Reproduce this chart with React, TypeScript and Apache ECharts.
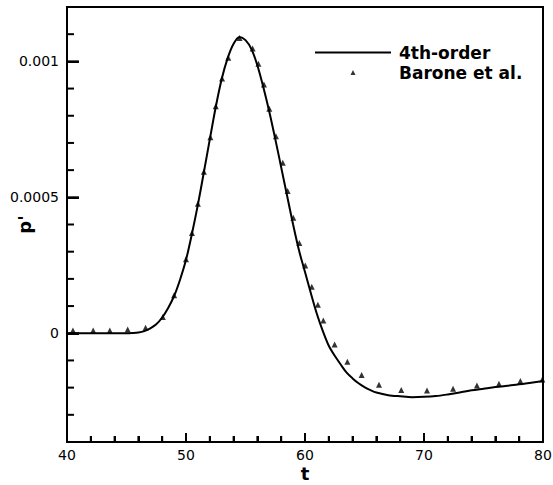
import { useEffect, useRef } from "react";
import * as echarts from "echarts";

// 4th-order solution curve
const curveT = [
  40, 41, 42, 43, 44, 45, 45.5, 46, 46.5, 47, 47.5, 48, 48.5, 49, 49.5, 50,
  50.5, 51, 51.5, 52, 52.5, 53, 53.5, 54, 54.5, 55, 55.5, 56, 56.5, 57, 57.5,
  58, 58.5, 59, 59.5, 60, 60.5, 61, 61.5, 62, 62.5, 63, 63.5, 64, 64.5, 65,
  65.5, 66, 67, 68, 69, 70, 71, 72, 73, 74, 75, 76, 77, 78, 79, 80,
];
const curveP = [
  0, 0, 0, 0, 0, 0, 0.000001, 0.000003, 0.000008, 0.000018, 0.000033,
  0.000058, 0.000093, 0.000137, 0.000197, 0.00027, 0.000366, 0.000473,
  0.000592, 0.000713, 0.000832, 0.000935, 0.001012, 0.001065, 0.00109,
  0.001078, 0.001045, 0.000985, 0.000905, 0.000815, 0.000715, 0.00061,
  0.000505, 0.0004, 0.000304, 0.000225, 0.000146, 0.000071, 0.000008,
  -0.000046, -0.000083, -0.000115, -0.000145, -0.000166, -0.000184,
  -0.000198, -0.000209, -0.000218, -0.000228, -0.000232, -0.000235,
  -0.000234, -0.000231, -0.000225, -0.000218, -0.00021, -0.000204,
  -0.000198, -0.000193, -0.000188, -0.000182, -0.000176,
];

// Barone et al. reference points
const baroneT = [
  40.5, 42.2, 43.6, 45.1, 46.6, 48.05, 49.0, 50.0, 50.5, 51.0, 51.5, 52.05,
  52.5, 53.03, 53.55, 54.5, 55.6, 56.08, 56.55, 57.0, 57.56, 58.13, 58.54,
  59.02, 59.52, 60.02, 60.57, 61.08, 61.54, 62.49, 63.56, 64.76, 66.22,
  68.09, 70.25, 72.44, 74.45, 76.3, 78.1, 79.94,
];
const baroneP = [
  0.00001, 0.00001, 0.00001, 0.000014, 0.00002, 0.00006, 0.00014, 0.000272,
  0.000369, 0.000476, 0.000594, 0.000721, 0.000835, 0.000937, 0.001013,
  0.001086, 0.001047, 0.000991, 0.000915, 0.000826, 0.000725, 0.000627,
  0.000523, 0.000425, 0.000332, 0.000249, 0.000171, 0.000105, 0.000047,
  -0.000041, -0.000105, -0.000154, -0.000189, -0.000209, -0.000211,
  -0.000204, -0.000192, -0.000186, -0.000176, -0.00017,
];

// Tick values
const xMajorTicks = [40, 50, 60, 70, 80];
const xMinorTicks = [
  42, 44, 46, 48, 52, 54, 56, 58, 62, 64, 66, 68, 72, 74, 76, 78,
];
const yMajorTicks = [0, 0.0005, 0.001];
const yMinorTicks = [
  -0.0003, -0.0002, -0.0001, 0.0001, 0.0002, 0.0003, 0.0004, 0.0006, 0.0007,
  0.0008, 0.0009, 0.0011,
];
const xRange = [40, 80];
const yRange = [-0.0004, 0.0012];

const FONT = "DejaVu Sans";
const TICK_STYLE = { color: "#000", width: 2 };

type TickSpec = { axis: "x" | "y"; v: number; len: number };
const tickSpecs: TickSpec[] = [
  ...xMajorTicks.map((v) => ({ axis: "x" as const, v, len: 9 })),
  ...xMinorTicks.map((v) => ({ axis: "x" as const, v, len: 6 })),
  ...yMajorTicks.map((v) => ({ axis: "y" as const, v, len: 12 })),
  ...yMinorTicks.map((v) => ({ axis: "y" as const, v, len: 7 })),
];

export default function App() {
  const ref = useRef<HTMLDivElement>(null);
  useEffect(() => {
    const chart = echarts.init(ref.current!, null, { renderer: "svg" });
    chart.setOption({
      animation: false,
      backgroundColor: "#fff",
      grid: {
        left: 67,
        right: 10,
        top: 7,
        bottom: 43,
        outerBoundsMode: "none",
        show: true,
        borderColor: "#000",
        borderWidth: 2,
      },
      legend: {
        orient: "vertical",
        left: 315,
        top: 44,
        itemWidth: 76,
        itemHeight: 5,
        itemGap: 3,
        padding: 0,
        symbolKeepAspect: true,
        textStyle: {
          fontFamily: FONT,
          fontWeight: "bold",
          fontSize: 17,
          color: "#000",
          padding: [0, 0, 0, 3],
        },
        data: [
          { name: "4th-order", icon: "path://M0 0 H76 V2 H0 Z" },
          { name: "Barone et al.", icon: "path://M2.5 0 L5 5 L0 5 Z" },
        ],
      },
      xAxis: {
        type: "value",
        position: "bottom",
        min: xRange[0],
        max: xRange[1],
        interval: 10,
        name: "t",
        nameLocation: "middle",
        nameGap: 22,
        nameMoveOverlap: false,
        nameTextStyle: {
          fontFamily: FONT,
          fontWeight: "bold",
          fontSize: 18,
          color: "#000",
        },
        axisLine: {
          show: true,
          onZero: false,
          lineStyle: { color: "#000", width: 2 },
        },
        axisTick: { show: true, inside: true, length: 9, lineStyle: TICK_STYLE },
        minorTick: { show: true, splitNumber: 5, length: 6, lineStyle: TICK_STYLE },
        splitLine: { show: false },
        axisLabel: { fontFamily: FONT, fontSize: 14, color: "#000", margin: 6 },
      },
      yAxis: {
        type: "value",
        position: "left",
        min: yRange[0],
        max: yRange[1],
        name: "p'",
        nameLocation: "middle",
        nameGap: 34,
        nameMoveOverlap: false,
        nameTextStyle: {
          fontFamily: FONT,
          fontWeight: "bold",
          fontSize: 18,
          color: "#000",
        },
        axisLine: {
          show: true,
          onZero: false,
          lineStyle: { color: "#000", width: 2 },
        },
        axisTick: {
          show: true,
          inside: true,
          length: 12,
          customValues: yMajorTicks,
          lineStyle: TICK_STYLE,
        },
        axisLabel: {
          customValues: yMajorTicks,
          fontFamily: FONT,
          fontSize: 14,
          color: "#000",
          margin: 8,
          formatter: (v: number) => String(+v.toFixed(6)),
        },
        splitLine: { show: false },
      },
      series: [
        {
          name: "4th-order",
          type: "line",
          data: curveT.map((t, i) => [t, curveP[i]]),
          symbol: "none",
          smooth: 0.3,
          lineStyle: { color: "#000", width: 2 },
          itemStyle: { color: "#000" },
          z: 2,
        },
        {
          name: "Barone et al.",
          type: "scatter",
          data: baroneT.map((t, i) => [t, baroneP[i]]),
          symbol: "triangle",
          symbolSize: 6,
          itemStyle: { color: "#000" },
          z: 3,
        },
        {
          name: "ticks",
          type: "custom",
          silent: true,
          clip: false,
          z: 10,
          data: tickSpecs.map((s) =>
            s.axis === "x" ? [s.v, yRange[0]] : [xRange[0], s.v]
          ),
          renderItem: (params: any, api: any) => {
            const s = tickSpecs[params.dataIndex];
            const p =
              s.axis === "x"
                ? api.coord([s.v, yRange[0]])
                : api.coord([xRange[0], s.v]);
            const shape =
              s.axis === "x"
                ? { x1: p[0], y1: p[1], x2: p[0], y2: p[1] - s.len }
                : { x1: p[0], y1: p[1], x2: p[0] + s.len, y2: p[1] };
            return {
              type: "line",
              shape,
              style: { stroke: "#000", lineWidth: 2, fill: null },
            };
          },
        },
      ],
    });
    return () => chart.dispose();
  }, []);
  return (
    <div
      ref={ref}
      style={{ position: "absolute", left: 0, top: 0, width: 553, height: 485 }}
    />
  );
}
